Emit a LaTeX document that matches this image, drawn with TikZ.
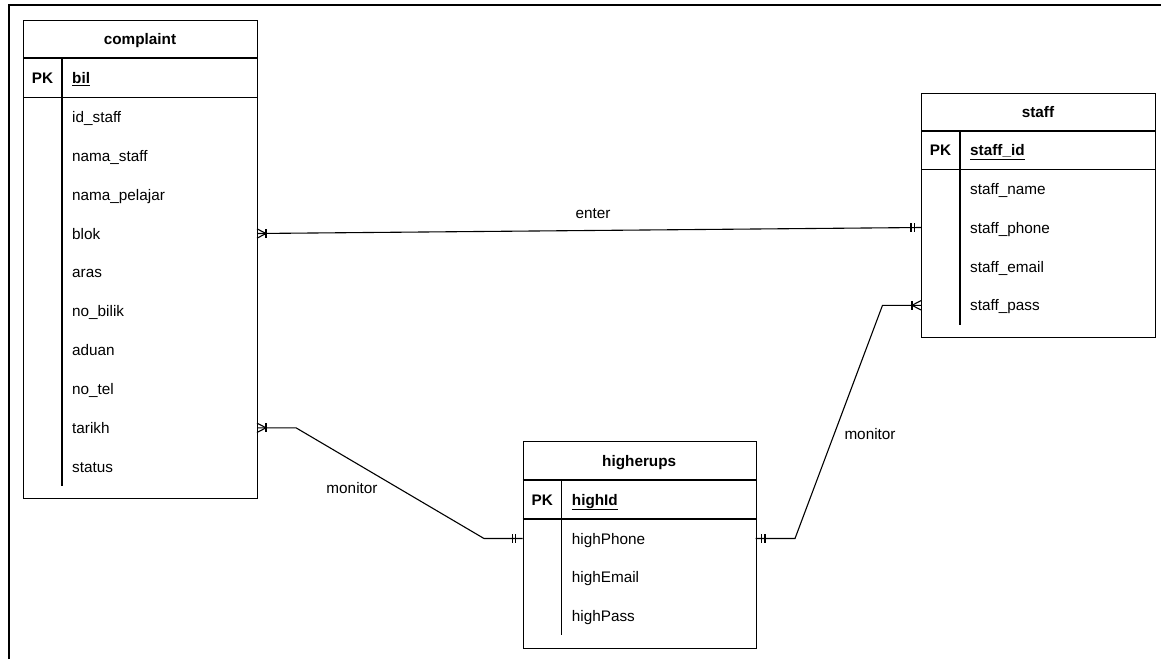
\documentclass[tikz,border=0pt]{standalone}
\usepackage{fontspec}
\setmainfont{Liberation Sans}
\newcommand{\fsz}{\fontsize{15.3}{18}\selectfont}
\begin{document}
\begin{tikzpicture}[x=1pt,y=-1pt,
  tbl/.style={draw, line width=1.2pt, inner sep=0pt, anchor=north west, fill=white},
  ttl/.style={font=\fsz\bfseries, inner sep=0pt, anchor=base},
  pkt/.style={font=\fsz\bfseries, inner sep=0pt, anchor=base},
  fld/.style={font=\fsz, inner sep=0pt, anchor=base west},
  pkf/.style={font=\fsz\bfseries, inner sep=0pt, anchor=base west},
  ln/.style={line width=1.2pt},
  conn/.style={line width=1.1pt},
  lbl/.style={font=\fsz, inner sep=0pt}]
\useasboundingbox (0,0) rectangle (1161,659);
\draw[line width=2pt] (9,659) -- (9,5) -- (1161,5);

% complaint table
\node[tbl, minimum width=234pt, minimum height=478.5pt] (complaint) at (23,19.5) {};
\draw[ln] (23,58) -- (257,58);
\draw[ln] (23,97.5) -- (257,97.5);
\draw[ln] (62,58) -- (62,486);
\node[ttl] (ctitle) at (140,44.25) {complaint};
\node[pkt] (cpk) at (42.5,83.25) {PK};
\node[pkf] (cbil) at (72,83.25) {\underline{bil}};
\foreach \t [count=\i from 0] in {id\_staff,nama\_staff,nama\_pelajar,blok,aras,no\_bilik,aduan,no\_tel,tarikh,status}{
  \node[fld] (cf\i) at (72,{117+\i*38.85+5.5}) {\t};
}

% staff table
\node[tbl, minimum width=234pt, minimum height=244.5pt] (staff) at (921,92.5) {};
\draw[ln] (921,131) -- (1155,131);
\draw[ln] (921,169.5) -- (1155,169.5);
\draw[ln] (960,131) -- (960,325);
\node[ttl] (stitle) at (1038,117.25) {staff};
\node[pkt] (spk) at (940.5,155.75) {PK};
\node[pkf] (sid) at (970,155.75) {\underline{staff\_id}};
\foreach \t [count=\i from 0] in {staff\_name,staff\_phone,staff\_email,staff\_pass}{
  \node[fld] (sf\i) at (970,{188.9+\i*38.8+5.5}) {\t};
}

% higherups table
\node[tbl, minimum width=233pt, minimum height=207pt] (higherups) at (522.7,441) {};
\draw[ln] (522.7,480) -- (755.7,480);
\draw[ln] (522.7,519) -- (755.7,519);
\draw[ln] (561.7,480) -- (561.7,635);
\node[ttl] (htitle) at (639.2,466) {higherups};
\node[pkt] (hpk) at (542.2,505) {PK};
\node[pkf] (hid) at (571.7,505) {\underline{highId}};
\foreach \t [count=\i from 0] in {highPhone,highEmail,highPass}{
  \node[fld] (hf\i) at (571.7,{538.5+\i*38.8+5.5}) {\t};
}

% connector end points
\coordinate (cblok) at (257,233.5);
\coordinate (sphone) at (921,227.5);
\coordinate (ctarikh) at (257,427.8);
\coordinate (hphoneL) at (522.7,538.5);
\coordinate (hphoneR) at (755.7,538.5);
\coordinate (spass) at (921,305.3);
\coordinate (m1a) at (296,427.8);
\coordinate (m1b) at (484,538.5);
\coordinate (m2a) at (795,538.5);
\coordinate (m2b) at (882.5,305.3);

% enter
\draw[conn] (cblok) -- (sphone);
\draw[conn] (cblok) ++(9,-4.5) -- ++(0,9);
\draw[conn] (cblok) ++(0,-4.7) -- ++(9,4.7) -- ++(-9,4.7);
\draw[conn] (sphone) ++(-6.5,-4.5) -- ++(0,9);
\draw[conn] (sphone) ++(-10,-4.5) -- ++(0,9);
\node[lbl] (enterlbl) at (593,214) {enter};

% monitor complaint - higherups
\draw[conn] (ctarikh) -- (m1a) -- (m1b) -- (hphoneL);
\draw[conn] (ctarikh) ++(9,-4.5) -- ++(0,9);
\draw[conn] (ctarikh) ++(0,-4.7) -- ++(9,4.7) -- ++(-9,4.7);
\draw[conn] (hphoneL) ++(-7,-4.5) -- ++(0,9);
\draw[conn] (hphoneL) ++(-10.5,-4.5) -- ++(0,9);
\node[lbl] (mon1) at (352,488) {monitor};

% monitor higherups - staff
\draw[conn] (hphoneR) -- (m2a) -- (m2b) -- (spass);
\draw[conn] (hphoneR) ++(5.5,-4.5) -- ++(0,9);
\draw[conn] (hphoneR) ++(9.3,-4.5) -- ++(0,9);
\draw[conn] (spass) ++(-9,-4.5) -- ++(0,9);
\draw[conn] (spass) ++(0,-4.7) -- ++(-9,4.7) -- ++(9,4.7);
\node[lbl] (mon2) at (870,434) {monitor};
\end{tikzpicture}
\end{document}
